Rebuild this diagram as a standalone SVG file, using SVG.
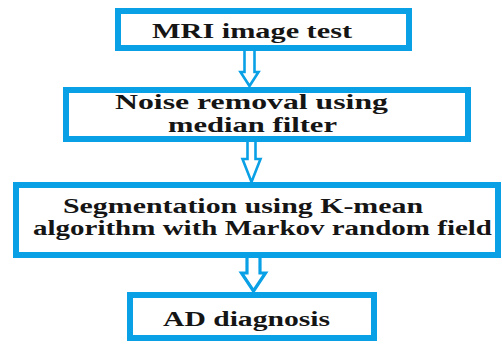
<svg xmlns="http://www.w3.org/2000/svg" width="502" height="345" viewBox="0 0 502 345">
<style>
.box{fill:#ffffff;stroke:#0aa0e6;stroke-width:6}
.arr{fill:#ffffff;stroke:#0aa0e6;stroke-width:2.6;stroke-linejoin:miter}
.t{font-weight:bold;font-size:20px;fill:#151515}
</style>
<rect width="502" height="345" fill="#ffffff"/>
<g id="connectors">
<path class="arr" d="M244.5 51 L244.5 72 L240.5 72 L249.5 86 L258.5 72 L254.5 72 L254.5 51"/>
<path class="arr" d="M247.5 142 L247.5 159 L242.5 159 L251.5 182 L260.5 159 L255.5 159 L255.5 142"/>
<path class="arr" d="M247 258 L247 273 L241.5 273 L253.5 291 L265.5 273 L260 273 L260 258" style="stroke-width:3.2"/>
</g>
<g id="node1">
<rect class="box" x="118" y="11" width="291" height="37"/>
<text class="t" font-family="Liberation Serif, serif" x="152" y="38" textLength="200" lengthAdjust="spacingAndGlyphs">MRI image test</text>
</g>
<g id="node2">
<rect class="box" x="66" y="90" width="402" height="49"/>
<text class="t" font-family="Liberation Serif, serif" x="115" y="109" textLength="273" lengthAdjust="spacingAndGlyphs" style="font-size:21px">Noise removal using</text>
<text class="t" font-family="Liberation Serif, serif" x="168" y="132" textLength="169" lengthAdjust="spacingAndGlyphs" style="font-size:21px">median filter</text>
</g>
<g id="node3">
<rect class="box" x="16" y="185" width="482" height="70"/>
<text class="t" font-family="Liberation Serif, serif" x="63" y="213" textLength="360" lengthAdjust="spacingAndGlyphs">Segmentation using K-mean</text>
<text class="t" font-family="Liberation Serif, serif" x="33" y="235" textLength="459" lengthAdjust="spacingAndGlyphs">algorithm with Markov random field</text>
</g>
<g id="node4">
<rect class="box" x="130" y="295" width="244" height="43"/>
<text class="t" font-family="Liberation Serif, serif" x="163" y="326" textLength="167" lengthAdjust="spacingAndGlyphs">AD diagnosis</text>
</g>
</svg>
